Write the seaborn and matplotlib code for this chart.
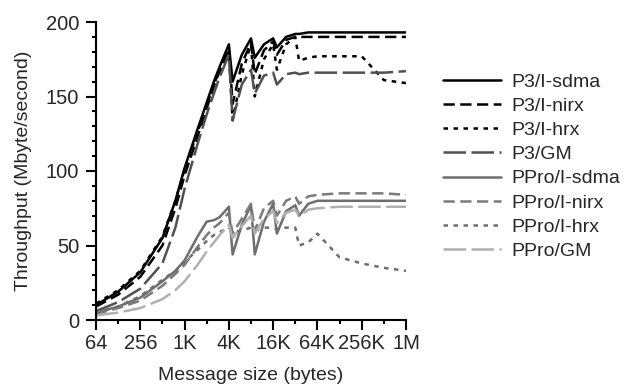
import matplotlib
matplotlib.use("Agg")
import matplotlib.pyplot as plt
import seaborn as sns
import pandas as pd
from matplotlib.ticker import FixedLocator, MultipleLocator, NullFormatter

# ---- data ----
sizes = [64, 128, 256, 512, 768, 1024, 1536, 2048, 2560, 3072, 4096, 4608, 6144,
         8192, 9216, 12288, 16384, 18432, 24576, 32768, 36864, 49152, 65536,
         131072, 262144, 524288, 1048576]

p3_sdma = [10, 19, 32, 55, 80, 102, 128, 146, 160, 170, 185, 160, 178, 189, 176, 185, 189, 183, 190, 192, 192, 193, 193, 193, 193, 193, 193]
p3_nirx = [9, 17, 29, 50, 75, 97, 123, 142, 157, 167, 182, 145, 172, 186, 165, 181, 187, 178, 188, 190, 190, 190, 190, 190, 190, 190, 190]
p3_hrx = [11, 20, 33, 56, 80, 101, 126, 144, 158, 168, 180, 134, 165, 185, 150, 175, 185, 168, 185, 190, 174, 176, 177, 177, 177, 161, 159]
p3_gm = [6, 12, 21, 38, 62, 88, 118, 138, 152, 163, 178, 134, 158, 168, 152, 164, 166, 158, 165, 166, 165, 166, 166, 166, 166, 166, 167]
ppro_sdma = [5, 9, 15, 26, 33, 40, 56, 66, 67, 69, 76, 44, 64, 77, 44, 66, 78, 58, 73, 77, 70, 78, 80, 80, 80, 80, 80]
ppro_nirx = [4, 8, 13, 23, 31, 37, 49, 57, 62, 65, 72, 58, 68, 78, 60, 75, 80, 70, 80, 83, 78, 83, 84, 85, 85, 85, 84]
ppro_hrx = [5, 9, 16, 27, 33, 39, 47, 53, 57, 59, 62, 59, 60, 62, 60, 62, 62, 61, 62, 62, 50, 52, 58, 42, 38, 35, 33]
ppro_gm = [3, 5, 8, 14, 20, 26, 37, 46, 52, 57, 64, 55, 63, 70, 58, 68, 73, 65, 72, 74, 70, 74, 75, 76, 76, 76, 76]

series_names = ["P3/I-sdma", "P3/I-nirx", "P3/I-hrx", "P3/GM",
                "PPro/I-sdma", "PPro/I-nirx", "PPro/I-hrx", "PPro/GM"]
series_values = [p3_sdma, p3_nirx, p3_hrx, p3_gm,
                 ppro_sdma, ppro_nirx, ppro_hrx, ppro_gm]

xtick_values = [64, 256, 1024, 4096, 16384, 65536, 262144, 1048576]
xtick_labels = ["64", "256", "1K", "4K", "16K", "64K", "256K", "1M"]
xminor_values = [128, 512, 2048, 8192, 32768, 131072, 524288]
yticks = [0, 50, 100, 150, 200]

# ---- styles ----
palette = {
    "P3/I-sdma": "#000000", "P3/I-nirx": "#000000", "P3/I-hrx": "#000000",
    "P3/GM": "#505050", "PPro/I-sdma": "#6e6e6e", "PPro/I-nirx": "#7a7a7a",
    "PPro/I-hrx": "#6e6e6e", "PPro/GM": "#b0b0b0",
}
dashes = {
    "P3/I-sdma": "", "P3/I-nirx": (4.5, 2.2), "P3/I-hrx": (1.8, 2.2), "P3/GM": (9, 2.2),
    "PPro/I-sdma": "", "PPro/I-nirx": (4.5, 2.2), "PPro/I-hrx": (1.8, 2.2), "PPro/GM": (9, 2.2),
}

rows = []
for name, vals in zip(series_names, series_values):
    for s, v in zip(sizes, vals):
        rows.append({"size": s, "thr": v, "series": name})
df = pd.DataFrame(rows)

sns.set_style("ticks")
plt.rcParams["font.family"] = ["Liberation Sans", "DejaVu Sans"]
plt.rcParams["font.size"] = 14

fig = plt.figure(figsize=(6.24, 3.9), dpi=100)
ax = fig.add_axes([96 / 624, 1 - 320 / 390, 310 / 624, 298 / 390])

sns.lineplot(data=df, x="size", y="thr", hue="series", style="series",
             hue_order=series_names, style_order=series_names,
             palette=palette, dashes=dashes, linewidth=1.8,
             estimator=None, ax=ax, legend=True)

ax.set_xscale("log", base=2)
ax.set_xlim(64, 1048576)
ax.set_ylim(0, 200)
ax.xaxis.set_major_locator(FixedLocator(xtick_values))
ax.set_xticklabels(xtick_labels)
ax.xaxis.set_minor_locator(FixedLocator(xminor_values))
ax.xaxis.set_minor_formatter(NullFormatter())
ax.yaxis.set_major_locator(FixedLocator(yticks))
ax.yaxis.set_minor_locator(MultipleLocator(10))

for sp in ["top", "right"]:
    ax.spines[sp].set_visible(False)
for sp in ["left", "bottom"]:
    ax.spines[sp].set_linewidth(1.5)
    ax.spines[sp].set_color("black")

ax.tick_params(axis="both", which="major", length=7.2, width=1.5, color="black",
               labelsize=14.5, direction="out")
ax.tick_params(axis="both", which="minor", length=3.2, width=1.5, color="black",
               direction="out")
ax.tick_params(axis="x", which="major", pad=3)
ax.tick_params(axis="y", which="major", pad=5)

ax.set_xlabel("Message size (bytes)", fontsize=14, labelpad=10)
ax.set_ylabel("Throughput (Mbyte/second)", fontsize=14, labelpad=10)

handles, labels = ax.get_legend_handles_labels()
hl = [(h, l) for h, l in zip(handles, labels) if l in series_names]
ax.legend([h for h, _ in hl], [l for _, l in hl],
          loc="upper left", bbox_to_anchor=(443 / 624, 1 - 73 / 390),
          bbox_transform=fig.transFigure, frameon=False, borderaxespad=0,
          borderpad=0, handlelength=3.0, handletextpad=0.5, labelspacing=0.34,
          fontsize=14)

fig.savefig("out.png", dpi=100)
